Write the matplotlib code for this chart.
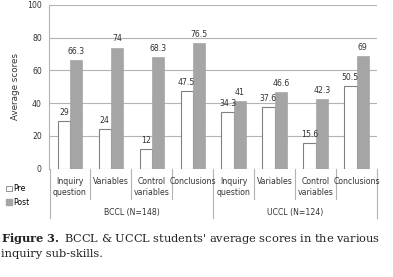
import matplotlib
matplotlib.use("Agg")
import matplotlib.pyplot as plt
from matplotlib.patches import Patch
from matplotlib.transforms import blended_transform_factory
import numpy as np

plt.rcParams["mathtext.fontset"] = "dejavuserif"

categories = ["Inquiry\nquestion", "Variables", "Control\nvariables", "Conclusions",
              "Inquiry\nquestion", "Variables", "Control\nvariables", "Conclusions"]
groups = ["BCCL (N=148)", "UCCL (N=124)"]
pre = [29, 24, 12, 47.5, 34.3, 37.6, 15.6, 50.5]
post = [66.3, 74, 68.3, 76.5, 41, 46.6, 42.3, 69]
pre_labels = ["29", "24", "12", "47.5", "34.3", "37.6", "15.6", "50.5"]
post_labels = ["66.3", "74", "68.3", "76.5", "41", "46.6", "42.3", "69"]
yticks = [0, 20, 40, 60, 80, 100]

W, H = 393, 277
fig = plt.figure(figsize=(W / 100, H / 100), dpi=100)
fig.patch.set_facecolor("white")
L, R, B, T = 49.5, 377, 168.5, 5
ax = fig.add_axes([L / W, 1 - B / H, (R - L) / W, (B - T) / H])

x = np.arange(len(categories))
bw = 0.3
grid_c = "#b3b3b3"
post_c = "#a5a5a5"
ax.bar(x - bw / 2, pre, bw, color="white", edgecolor="#808080", linewidth=0.8, zorder=3)
ax.bar(x + bw / 2, post, bw, color=post_c, edgecolor=post_c, linewidth=0.5, zorder=3)

fs = 5.6
for i in range(len(x)):
    ax.text(x[i] - bw / 2, pre[i] + 2.5, pre_labels[i], ha="center", va="bottom",
            fontsize=fs, color="#333333")
    ax.text(x[i] + bw / 2, post[i] + 2.5, post_labels[i], ha="center", va="bottom",
            fontsize=fs, color="#333333")

ax.set_xlim(-0.5, len(x) - 0.5)
ax.set_ylim(0, 100)
ax.set_yticks(yticks)
ax.set_yticklabels([str(v) for v in yticks], fontsize=fs, color="#333333")
ax.tick_params(axis="y", length=0, pad=5.5)
ax.set_xticks([])
ax.yaxis.grid(True, color=grid_c, linewidth=0.8, zorder=0)
ax.set_axisbelow(True)
for s in ["top", "right", "bottom"]:
    ax.spines[s].set_visible(False)
ax.spines["left"].set_color(grid_c)
ax.spines["left"].set_linewidth(0.8)
ax.set_ylabel("Average scores", fontsize=6.3, color="#333333", labelpad=5)

tr = blended_transform_factory(ax.transData, ax.transAxes)
ah = B - T
def ay(py):
    return (B - py) / ah

# separators
for b in np.arange(-0.5, len(x), 1.0):
    full = b in (-0.5, 3.5, len(x) - 0.5)
    y1 = ay(218) if full else ay(199)
    ax.plot([b, b], [0, y1], transform=tr, color=grid_c, lw=0.8, clip_on=False)

for i, c in enumerate(categories):
    ax.text(x[i], ay(177), c, transform=tr, ha="center", va="top", fontsize=fs,
            color="#333333", linespacing=1.35)
for g, name in enumerate(groups):
    ax.text(1.5 + 4 * g, ay(212), name, transform=tr, ha="center", va="center",
            fontsize=fs, color="#333333")

fig.legend(handles=[Patch(facecolor="white", edgecolor="#808080", lw=0.6),
                    Patch(facecolor=post_c, edgecolor=post_c)],
           labels=["Pre", "Post"], loc="upper left", bbox_to_anchor=(0.0, 1 - 178 / H),
           frameon=False, fontsize=fs, handlelength=0.7, handleheight=0.7,
           handletextpad=0.15, labelspacing=0.6, borderpad=0.3)

cap_fs = 8.2
fig.text(1 / W, 1 - 239 / H, r"$\bf{Figure\ 3.}$ BCCL & UCCL students' average scores in the various",
         fontsize=cap_fs, family="DejaVu Serif", va="center", ha="left", color="#222222")
fig.text(1 / W, 1 - 254 / H, "inquiry sub-skills.", fontsize=cap_fs, family="DejaVu Serif",
         va="center", ha="left", color="#222222")

fig.savefig("out.png", dpi=100, facecolor="white")
